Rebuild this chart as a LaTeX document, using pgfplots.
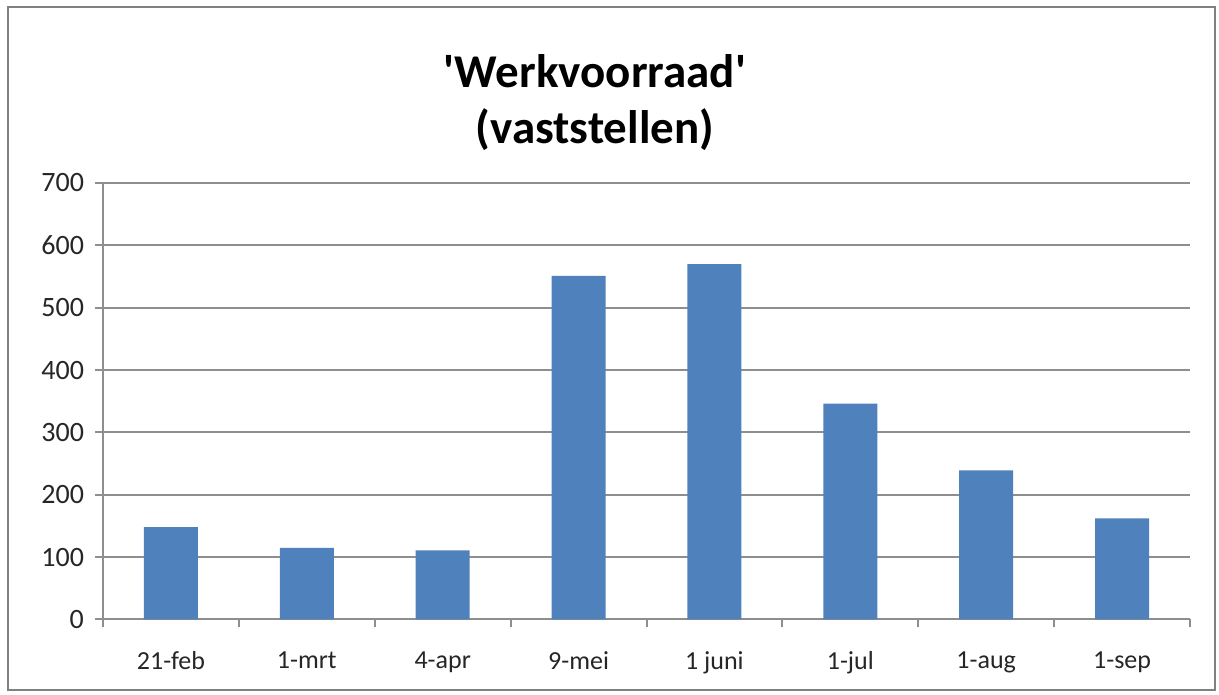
\documentclass[border=0pt]{standalone}
\usepackage{pgfplots}
\pgfplotsset{compat=1.18}
\usepackage{fontspec}
\setmainfont{Carlito}
\definecolor{barblue}{HTML}{4F81BD}
\definecolor{gridgray}{HTML}{8E8E8E}
\begin{document}
\begin{tikzpicture}
\path[use as bounding box] (0,0) rectangle (609.5pt,347.5pt);
\draw[gridgray!90!black, line width=1pt] (4pt,2.5pt) rectangle (607.5pt,344pt);
\node[font=\fontsize{23.5}{28}\selectfont\bfseries, align=center] at (297.5pt,296pt) {\textquotesingle Werkvoorraad\textquotesingle\\(vaststellen)};
\begin{axis}[
  at={(51.5pt,37.75pt)}, anchor=south west,
  scale only axis, width=543.5pt, height=218.25pt,
  ybar, bar width=27pt,
  xmin=-0.5, xmax=7.5, ymin=0, ymax=700,
  ytick={0,100,...,700},
  axis x line=bottom, axis y line=left,
  axis line style={-, draw=gridgray, line width=1pt},
  tick align=outside,
  ymajorgrids, grid style={gridgray, line width=1pt},
  ytick style={draw=gridgray, line width=1pt},
  major tick length=4pt,
  xtick={0,...,7},
  xticklabels={21-feb,1-mrt,4-apr,9-mei,1 juni,1-jul,1-aug,1-sep},
  xtick style={draw=none},
  extra x ticks={-0.5,0.5,...,7.5},
  extra x tick labels={},
  extra x tick style={xtick style={draw=gridgray, line width=1pt}, major tick length=4pt},
  tick label style={text=black!85},
  xticklabel style={font=\fontsize{13}{15}\selectfont, yshift=-8.5pt},
  yticklabel style={font=\fontsize{14}{16}\selectfont, xshift=-2pt},
  /pgf/number format/assume math mode=true,
]
\addplot[fill=barblue, draw=none] coordinates {(0,148) (1,115) (2,111) (3,551) (4,570) (5,346) (6,239) (7,162)};
\end{axis}
\end{tikzpicture}
\end{document}
